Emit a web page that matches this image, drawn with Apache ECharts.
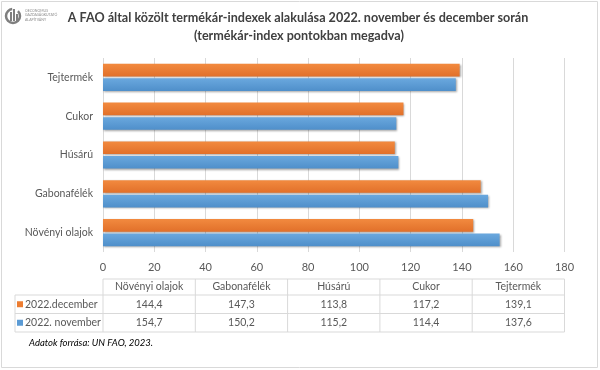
<!DOCTYPE html>
<html>
<head>
<meta charset="utf-8">
<script src="https://cdn.jsdelivr.net/npm/echarts@6/dist/echarts.min.js"></script>
<style>html,body{margin:0;padding:0;background:#fff}#c{width:600px;height:370px}</style>
</head>
<body>
<div id="c"></div>
<script>
const categories = ['Növényi olajok', 'Gabonafélék', 'Húsárú', 'Cukor', 'Tejtermék'];
const seriesNames = ['2022.december', '2022. november'];
const december = [144.4, 147.3, 113.8, 117.2, 139.1];
const november = [154.7, 150.2, 115.2, 114.4, 137.6];
const xTicks = [0, 20, 40, 60, 80, 100, 120, 140, 160, 180];
const titleLines = ['A FAO által közölt termékár-indexek alakulása 2022. november és december során', '(termékár-index pontokban megadva)'];
const sourceText = 'Adatok forrása: UN FAO, 2023.';
const logoLines = ['OECONOMUS', 'GAZDASÁGKUTATÓ', 'ALAPÍTVÁNY'];

const ORANGE = '#ED7D31', BLUE = '#5B9BD5';
const FONT = 'Lato';
const gridL = 103, gridR = 564.5, gridT = 58, gridB = 252;
const fmt = v => v.toFixed(1).replace('.', ',');

const chart = echarts.init(document.getElementById('c'), null, {renderer: 'canvas'});

const g = [];
const lineStyle = {stroke: '#d9d9d9', lineWidth: 1};
const rowY = [279, 295, 313.5, 332];
const colW = (gridR - gridL) / categories.length;
const legX = 15;
g.push({type: 'line', shape: {x1: gridL, y1: rowY[0], x2: gridR, y2: rowY[0]}, style: lineStyle, silent: true});
for (let i = 1; i < rowY.length; i++) {
  g.push({type: 'line', shape: {x1: legX, y1: rowY[i], x2: gridR, y2: rowY[i]}, style: lineStyle, silent: true});
}
g.push({type: 'line', shape: {x1: legX, y1: rowY[1], x2: legX, y2: rowY[3]}, style: lineStyle, silent: true});
for (let c = 0; c <= categories.length; c++) {
  const x = gridL + c * colW;
  g.push({type: 'line', shape: {x1: x, y1: rowY[0], x2: x, y2: rowY[3]}, style: lineStyle, silent: true});
}
const TF = '10.5px ' + FONT;
categories.forEach((cat, i) => {
  g.push({type: 'text', x: gridL + (i + 0.5) * colW, y: (rowY[0] + rowY[1]) / 2,
    style: {text: cat, fill: '#595959', font: TF, textAlign: 'center', textVerticalAlign: 'middle'}, silent: true});
});
const rows = [[seriesNames[0], ORANGE, december], [seriesNames[1], BLUE, november]];
rows.forEach((r, ri) => {
  const cy = (rowY[ri + 1] + rowY[ri + 2]) / 2;
  g.push({type: 'rect', shape: {x: 17, y: cy - 3, width: 6, height: 6}, style: {fill: r[1]}, silent: true});
  g.push({type: 'text', x: 25, y: cy, style: {text: r[0], fill: '#595959', font: TF, textVerticalAlign: 'middle'}, silent: true});
  categories.forEach((cat, i) => {
    g.push({type: 'text', x: gridL + (i + 0.5) * colW, y: cy,
      style: {text: fmt(r[2][i]), fill: '#595959', font: TF, textAlign: 'center', textVerticalAlign: 'middle'}, silent: true});
  });
});
g.push({type: 'rect', shape: {x: 1.5, y: 1.5, width: 596, height: 366}, style: {fill: 'none', stroke: '#d9d9d9', lineWidth: 1}, silent: true});
g.push({type: 'text', x: 298, y: 18, style: {text: titleLines[0], fill: '#404040', font: 'bold 12.6px ' + FONT, textAlign: 'center', textVerticalAlign: 'middle'}, silent: true});
g.push({type: 'text', x: 299, y: 36, style: {text: titleLines[1], fill: '#404040', font: 'bold 12.6px ' + FONT, textAlign: 'center', textVerticalAlign: 'middle'}, silent: true});
g.push({type: 'text', x: 29, y: 343, style: {text: sourceText, fill: '#000', font: 'italic 9.5px ' + FONT, textVerticalAlign: 'middle'}, silent: true});
g.push({type: 'arc', shape: {cx: 13, cy: 16, r: 7, startAngle: -Math.PI * 0.25, endAngle: Math.PI * 1.75 - 0.9}, style: {stroke: '#7f7f7f', lineWidth: 2.5, fill: 'none'}, silent: true});
g.push({type: 'rect', shape: {x: 10, y: 12, width: 2, height: 9}, style: {fill: '#7f7f7f'}, silent: true});
g.push({type: 'rect', shape: {x: 13, y: 9, width: 2, height: 12}, style: {fill: '#7f7f7f'}, silent: true});
g.push({type: 'rect', shape: {x: 16, y: 14, width: 2, height: 7}, style: {fill: '#7f7f7f'}, silent: true});
logoLines.forEach((t, i) => {
  g.push({type: 'text', x: 25, y: 11 + i * 4.2, style: {text: t, fill: '#8c8c8c', font: '3.5px ' + FONT, textVerticalAlign: 'middle'}, silent: true});
});

const barShadow = {shadowColor: 'rgba(0,0,0,0.35)', shadowBlur: 2, shadowOffsetX: 1, shadowOffsetY: 1};
const grad = (c1, c2) => new echarts.graphic.LinearGradient(0, 0, 0, 1, [{offset: 0, color: c1}, {offset: 1, color: c2}]);

chart.setOption({
  animation: false,
  grid: {left: gridL, right: 600 - gridR, top: gridT, bottom: 370 - gridB, containLabel: false},
  xAxis: {
    type: 'value', min: xTicks[0], max: xTicks[xTicks.length - 1], interval: xTicks[1] - xTicks[0],
    axisLine: {show: false}, axisTick: {show: false},
    axisLabel: {color: '#595959', fontSize: 11, fontFamily: FONT, margin: 10},
    splitLine: {lineStyle: {color: '#d9d9d9', width: 1}}
  },
  yAxis: {
    type: 'category', data: categories,
    axisLine: {show: false}, axisTick: {show: false},
    axisLabel: {color: '#595959', fontSize: 10.5, fontFamily: FONT, margin: 10}
  },
  series: [
    {name: seriesNames[0], type: 'bar', data: december, barCategoryGap: '30%', barGap: '15%',
      itemStyle: Object.assign({color: grad('#f28a3f', '#e1702a')}, barShadow)},
    {name: seriesNames[1], type: 'bar', data: november, barCategoryGap: '30%', barGap: '15%',
      itemStyle: Object.assign({color: grad('#6aa8de', '#4f8fca')}, barShadow)}
  ],
  graphic: g
});
</script>
</body>
</html>
